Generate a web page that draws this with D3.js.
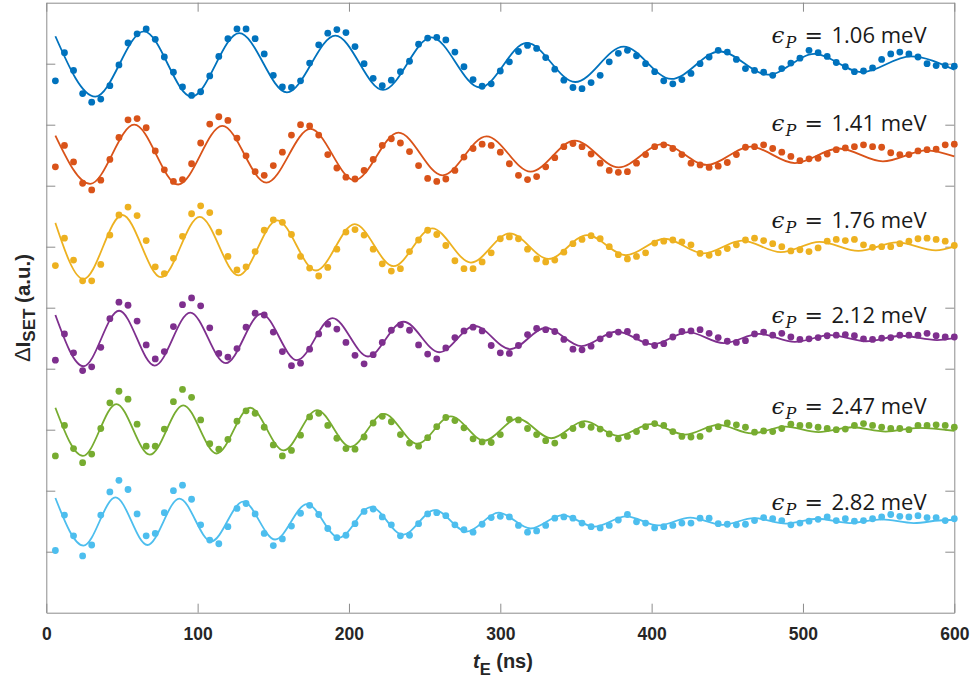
<!DOCTYPE html>
<html>
<head>
<meta charset="utf-8">
<script src="https://cdn.jsdelivr.net/npm/d3@7"></script>
<style>
  body { margin: 0; background: #ffffff; }
  svg { display: block; }
</style>
</head>
<body>
<svg id="chart" width="973" height="682"></svg>
<script>
// ---- Data -------------------------------------------------------------
// Evolution time t_E (ns) of every measured point
const tE = [6,12,18,24,30,36,42,48,54,60,66,72,78,84,90,96,102,108,114,120,
  126,132,138,144,150,156,162,168,174,180,186,192,198,204,210,216,222,228,234,240,
  246,252,258,264,270,276,282,288,294,300,306,312,318,324,330,336,342,348,354,360,
  366,372,378,384,390,396,402,408,414,420,426,432,438,444,450,456,462,468,474,480,
  486,492,498,504,510,516,522,528,534,540,546,552,558,564,570,576,582,588,594,600];

// Detuning pulse amplitude of each trace (meV)
const epsP = ["1.06", "1.41", "1.76", "2.12", "2.47", "2.82"];
// Vertical offset of each trace (a.u.)
const offsets = [9, 7.5, 6, 4.5, 3, 1.5];

// Measured Delta I_SET (a.u.) relative to each trace's offset
const d106 = [-0.28,0.18,-0.11,-0.49,-0.63,-0.58,-0.36,-0.02,0.34,0.49,
  0.57,0.40,0.11,-0.14,-0.38,-0.52,-0.46,-0.20,0.12,0.41,
  0.57,0.57,0.41,0.16,-0.19,-0.38,-0.39,-0.28,0.01,0.31,
  0.50,0.56,0.51,0.28,0.00,-0.24,-0.36,-0.27,-0.13,0.04,
  0.32,0.42,0.43,0.39,0.19,-0.05,-0.26,-0.37,-0.33,-0.12,
  0.03,0.20,0.30,0.25,0.10,-0.09,-0.27,-0.39,-0.41,-0.31,
  -0.19,0.03,0.17,0.22,0.13,0.00,-0.13,-0.28,-0.33,-0.26,
  -0.16,0.00,0.11,0.22,0.19,0.07,-0.08,-0.11,-0.14,-0.19,
  -0.08,0.01,0.09,0.22,0.18,0.12,0.02,-0.05,-0.13,-0.12,
  -0.07,0.07,0.16,0.19,0.16,0.11,0.00,-0.03,-0.03,-0.04];
const d141 = [-0.19,0.16,-0.11,-0.46,-0.57,-0.41,-0.07,0.29,0.58,0.60,
  0.45,0.07,-0.24,-0.43,-0.40,-0.14,0.20,0.51,0.63,0.57,
  0.28,-0.01,-0.27,-0.33,-0.17,0.05,0.33,0.50,0.48,0.33,
  0.01,-0.21,-0.36,-0.39,-0.25,-0.07,0.16,0.27,0.20,0.06,
  -0.17,-0.38,-0.43,-0.39,-0.25,-0.03,0.11,0.18,0.16,0.05,
  -0.14,-0.33,-0.40,-0.35,-0.19,-0.04,0.14,0.19,0.14,0.02,
  -0.13,-0.25,-0.28,-0.27,-0.13,0.01,0.14,0.17,0.11,0.01,
  -0.13,-0.16,-0.20,-0.18,-0.12,0.01,0.13,0.14,0.17,0.11,
  0.05,-0.02,-0.09,-0.06,-0.05,0.02,0.09,0.12,0.14,0.17,
  0.14,0.13,0.04,0.01,0.01,0.07,0.09,0.10,0.17,0.18];
const d176 = [-0.31,0.14,-0.22,-0.56,-0.56,-0.29,0.19,0.52,0.65,0.51,
  0.10,-0.33,-0.44,-0.19,0.17,0.54,0.67,0.56,0.24,-0.16,
  -0.38,-0.33,-0.08,0.27,0.44,0.40,0.20,-0.16,-0.35,-0.48,
  -0.34,-0.04,0.24,0.28,0.19,-0.04,-0.28,-0.40,-0.36,-0.08,
  0.11,0.27,0.20,0.02,-0.23,-0.36,-0.36,-0.25,-0.10,0.13,
  0.16,0.13,-0.04,-0.20,-0.25,-0.22,-0.09,0.05,0.12,0.18,
  0.13,0.00,-0.13,-0.20,-0.16,-0.10,0.06,0.09,0.11,0.08,
  0.03,-0.11,-0.14,-0.10,-0.03,0.03,0.11,0.14,0.10,0.05,
  0.00,-0.07,-0.05,-0.08,-0.02,0.09,0.12,0.10,0.12,0.03,
  -0.01,0.00,0.00,0.05,0.09,0.13,0.14,0.12,0.09,0.02];
const d212 = [-0.36,0.07,-0.24,-0.53,-0.47,-0.15,0.32,0.59,0.54,0.28,
  -0.11,-0.34,-0.22,0.19,0.55,0.66,0.53,0.17,-0.25,-0.31,
  -0.17,0.18,0.41,0.38,0.10,-0.22,-0.45,-0.41,-0.18,0.07,
  0.23,0.15,-0.07,-0.28,-0.42,-0.27,-0.07,0.13,0.22,0.13,
  -0.11,-0.26,-0.34,-0.16,0.01,0.12,0.18,0.12,-0.12,-0.24,
  -0.25,-0.12,0.06,0.16,0.14,0.11,-0.02,-0.18,-0.19,-0.13,
  -0.01,0.06,0.10,0.11,0.02,-0.07,-0.12,-0.09,0.02,0.11,
  0.12,0.14,0.08,0.01,-0.05,-0.07,-0.04,0.07,0.10,0.05,
  0.08,0.02,-0.02,-0.01,0.01,0.04,0.05,0.06,0.04,-0.01,
  -0.02,0.00,0.01,0.05,0.05,0.05,0.08,0.04,0.02,0.02];
const d247 = [-0.43,0.07,-0.31,-0.54,-0.40,0.02,0.44,0.63,0.50,0.09,
  -0.27,-0.27,0.01,0.46,0.66,0.53,0.16,-0.23,-0.32,-0.16,
  0.14,0.31,0.27,0.04,-0.25,-0.43,-0.34,-0.09,0.21,0.27,
  0.07,-0.14,-0.31,-0.32,-0.12,0.11,0.22,0.13,-0.08,-0.22,
  -0.27,-0.13,0.05,0.20,0.15,0.03,-0.15,-0.20,-0.21,-0.08,
  0.17,0.16,0.02,-0.08,-0.18,-0.22,-0.10,0.02,0.08,0.04,
  0.01,-0.07,-0.15,-0.11,-0.03,0.05,0.10,0.07,-0.03,-0.11,
  -0.12,-0.11,0.01,0.05,0.11,0.08,0.04,-0.04,-0.02,-0.03,
  0.02,0.09,0.07,0.07,0.04,0.02,0.00,0.01,0.07,0.10,
  0.07,0.04,0.02,0.02,0.00,0.07,0.07,0.08,0.07,0.04];
const d282 = [-0.48,0.10,-0.24,-0.57,-0.39,0.10,0.48,0.67,0.52,0.12,
  -0.24,-0.20,0.14,0.50,0.59,0.36,-0.06,-0.31,-0.37,-0.09,
  0.21,0.29,0.12,-0.20,-0.40,-0.29,-0.08,0.13,0.26,0.11,
  -0.12,-0.27,-0.23,-0.04,0.16,0.20,0.07,-0.06,-0.24,-0.23,
  -0.04,0.12,0.14,0.09,-0.06,-0.14,-0.18,-0.05,0.06,0.08,
  0.07,-0.07,-0.18,-0.16,-0.07,0.05,0.07,0.05,-0.03,-0.09,
  -0.11,-0.07,0.02,0.11,-0.01,-0.03,-0.11,-0.09,-0.07,-0.03,
  -0.03,0.05,0.05,-0.04,-0.05,-0.06,-0.05,0.01,0.06,0.04,
  0.01,-0.06,-0.03,0.00,0.03,0.07,0.01,0.04,0.00,0.01,
  0.04,0.07,0.11,0.08,0.07,0.09,0.06,0.06,0.01,0.04];

// Fitted damped oscillation of each trace: its end points and turning points [t_E, Delta I]
const fit106 = [[6,0.45],[32.3,-0.54],[64.5,0.53],[96,-0.54],[127.5,0.50],[159,-0.47],
  [191,0.46],[222.5,-0.43],[254.5,0.43],[286.5,-0.39],[317.5,0.34],[349.5,-0.30],
  [381.5,0.28],[413,-0.25],[445,0.20],[477,-0.18],[507.5,0.16],[539,-0.14],[571,0.12],[600,-0.10]];
const fit141 = [[6,0.32],[29,-0.47],[58.1,0.50],[87.2,-0.48],[116.3,0.48],[145.4,-0.45],
  [174.5,0.43],[203.6,-0.41],[232.7,0.37],[261.8,-0.33],[290.9,0.31],[320,-0.27],
  [349.1,0.24],[378.2,-0.20],[407.3,0.18],[436.4,-0.16],[465.5,0.14],[494.6,-0.13],
  [523.7,0.11],[552.8,-0.10],[581.9,0.08],[600,-0.02]];
const fit176 = [[6,0.39],[24.6,-0.53],[50.2,0.52],[75.8,-0.50],[101.4,0.49],[127,-0.47],
  [152.6,0.43],[178.2,-0.39],[203.8,0.37],[229.4,-0.32],[255,0.30],[280.6,-0.26],
  [306.2,0.22],[331.8,-0.20],[357.4,0.19],[383,-0.14],[408.6,0.13],[434.2,-0.11],
  [459.8,0.10],[485.4,-0.09],[511,0.08],[536.6,-0.07],[562.2,0.07],[587.8,-0.06],[600,0.00]];
const fit212 = [[6,0.38],[24.6,-0.46],[48.1,0.45],[71.6,-0.45],[95.1,0.42],[118.6,-0.41],
  [142.1,0.40],[165.6,-0.36],[189.1,0.33],[212.6,-0.30],[236.1,0.27],[259.6,-0.23],
  [283.1,0.20],[306.6,-0.18],[330.1,0.17],[353.6,-0.13],[377.1,0.11],[400.6,-0.10],
  [424.1,0.10],[447.6,-0.08],[471.1,0.07],[494.6,-0.06],[518.1,0.05],[541.6,-0.05],
  [565.1,0.04],[588.6,-0.03],[600,0.00]];
const fit247 = [[6,0.36],[24.2,-0.43],[46.3,0.42],[68.4,-0.41],[90.5,0.40],[112.6,-0.39],
  [134.7,0.36],[156.8,-0.34],[178.9,0.32],[201,-0.28],[223.1,0.26],[245.2,-0.23],
  [267.3,0.22],[289.4,-0.18],[311.5,0.18],[333.6,-0.14],[355.7,0.14],[377.8,-0.10],
  [399.9,0.09],[422,-0.08],[444.1,0.08],[466.2,-0.06],[488.3,0.05],[510.4,-0.04],
  [532.5,0.04],[554.6,-0.03],[576.7,0.03],[600,-0.02]];
const fit282 = [[6,0.38],[24.6,-0.40],[45.7,0.39],[66.8,-0.39],[87.9,0.37],[109,-0.33],
  [130.1,0.32],[151.2,-0.30],[172.3,0.28],[193.4,-0.27],[214.5,0.23],[235.6,-0.22],
  [256.7,0.18],[277.8,-0.17],[298.9,0.14],[320,-0.12],[341.1,0.10],[362.2,-0.09],
  [383.3,0.08],[404.4,-0.07],[425.5,0.06],[446.6,-0.06],[467.7,0.05],[488.8,-0.04],
  [509.9,0.04],[531,-0.03],[552.1,0.03],[573.2,-0.03],[594.3,0.02],[600,0.02]];

// Axis ticks
const xTicks = [0, 100, 200, 300, 400, 500, 600];
const yTicks = [1, 2, 3, 4, 5, 6, 7, 8, 9];

// ---- Layout & style ---------------------------------------------------
const colors = ["#0072BD", "#D95319", "#EDB120", "#7E2F8E", "#77AC30", "#4DBEEE"];
const labelLift = [0.34, 0.39, 0.31, 0.25, 0.25, 0.19];   // label baseline above trace offset (a.u.)
const plot = { left: 46.3, right: 954.3, top: 2.7, bottom: 612.7 };
const axisColor = "#8c8c8c";
const textColor = "#262626";
const sansBold = "'Liberation Sans', Arial, Helvetica, sans-serif";

const measured = [d106, d141, d176, d212, d247, d282];
const fits = [fit106, fit141, fit176, fit212, fit247, fit282];
const traces = epsP.map((e, i) => ({
  eps: e, offset: offsets[i], color: colors[i],
  points: tE.map((t, k) => [t, measured[i][k]]),
  fit: fits[i], lift: labelLift[i]
}));

const svg = d3.select("#chart");
const x = d3.scaleLinear().domain([0, 600]).range([plot.left, plot.right]);
const y = d3.scaleLinear().domain([0, 10]).range([plot.bottom, plot.top]);

// ---- Axes box with inward ticks -------------------------------------------
function styleAxis(g) {
  g.select(".domain").attr("stroke", axisColor).attr("stroke-width", 1);
  g.selectAll(".tick line").attr("stroke", axisColor).attr("stroke-width", 1);
}
svg.append("g")
  .attr("transform", `translate(0,${plot.bottom})`)
  .call(d3.axisBottom(x).tickValues(xTicks).tickSizeInner(-9).tickSizeOuter(0).tickPadding(15))
  .call(styleAxis)
  .call(g => g.selectAll(".tick text")
    .attr("font-family", sansBold).attr("font-weight", "bold")
    .attr("font-size", 17.5).attr("fill", textColor));
svg.append("g")
  .attr("transform", `translate(0,${plot.top})`)
  .call(d3.axisTop(x).tickValues(xTicks).tickSizeInner(-9).tickSizeOuter(0).tickFormat(""))
  .call(styleAxis);
svg.append("g")
  .attr("transform", `translate(${plot.left},0)`)
  .call(d3.axisLeft(y).tickValues(yTicks).tickSizeInner(-9).tickSizeOuter(0).tickFormat(""))
  .call(styleAxis);
svg.append("g")
  .attr("transform", `translate(${plot.right},0)`)
  .call(d3.axisRight(y).tickValues(yTicks).tickSizeInner(-9).tickSizeOuter(0).tickFormat(""))
  .call(styleAxis);

// ---- Axis titles ------------------------------------------------------------
const xTitle = svg.append("text")
  .attr("x", 473).attr("y", 668)
  .attr("font-family", sansBold).attr("font-weight", "bold")
  .attr("font-size", 20).attr("fill", textColor);
xTitle.append("tspan").attr("font-style", "italic").text("t");
xTitle.append("tspan").attr("font-size", 16.5).attr("dy", 7).text("E");
xTitle.append("tspan").attr("dy", -7).text(" (ns)");

const yTitle = svg.append("text")
  .attr("transform", "translate(30,308) rotate(-90)")
  .attr("text-anchor", "middle")
  .attr("font-family", sansBold).attr("font-weight", "bold")
  .attr("font-size", 20.5).attr("fill", textColor);
yTitle.append("tspan").attr("font-weight", "normal").attr("font-size", 22).text("\u0394");
yTitle.append("tspan").text("I");
yTitle.append("tspan").attr("font-size", 17).attr("dy", 5).text("SET");
yTitle.append("tspan").attr("dy", -5).text(" (a.u.)");

// ---- Traces: fit curves and measured points -------------------------------------
const gTraces = svg.append("g");
traces.forEach(tr => {
  const line = d3.line()
    .x(d => x(d[0]))
    .y(d => y(tr.offset + d[1]))
    .curve(d3.curveMonotoneX);
  gTraces.append("path")
    .datum(tr.fit)
    .attr("d", line)
    .attr("fill", "none")
    .attr("stroke", tr.color)
    .attr("stroke-width", 1.8);
  gTraces.append("g")
    .selectAll("circle")
    .data(tr.points)
    .join("circle")
    .attr("cx", d => x(d[0]))
    .attr("cy", d => y(tr.offset + d[1]))
    .attr("r", 3.4)
    .attr("fill", tr.color);
});

// ---- Trace labels: epsilon_P = ... meV ----------------------------------------------
const labelRight = 931.5;
traces.forEach(tr => {
  const base = y(tr.offset + tr.lift);
  const t = svg.append("text").attr("y", base).attr("fill", "#1a1a1a").attr("font-size", 22);
  t.append("tspan").attr("x", labelRight - 160)
    .attr("font-family", "'DejaVu Serif', serif").attr("font-style", "italic")
    .attr("font-size", 23).text("\u03F5");
  t.append("tspan").attr("x", labelRight - 146).attr("dy", 5)
    .attr("font-family", "'DejaVu Serif', serif").attr("font-style", "italic")
    .attr("font-size", 16).text("P");
  t.append("tspan").attr("x", labelRight - 127).attr("dy", -5)
    .attr("font-family", "'DejaVu Sans', sans-serif").text("=");
  t.append("tspan").attr("x", labelRight - 100)
    .attr("font-family", "'Open Sans', 'Noto Sans', sans-serif").text(tr.eps + " meV");
});
</script>
</body>
</html>
